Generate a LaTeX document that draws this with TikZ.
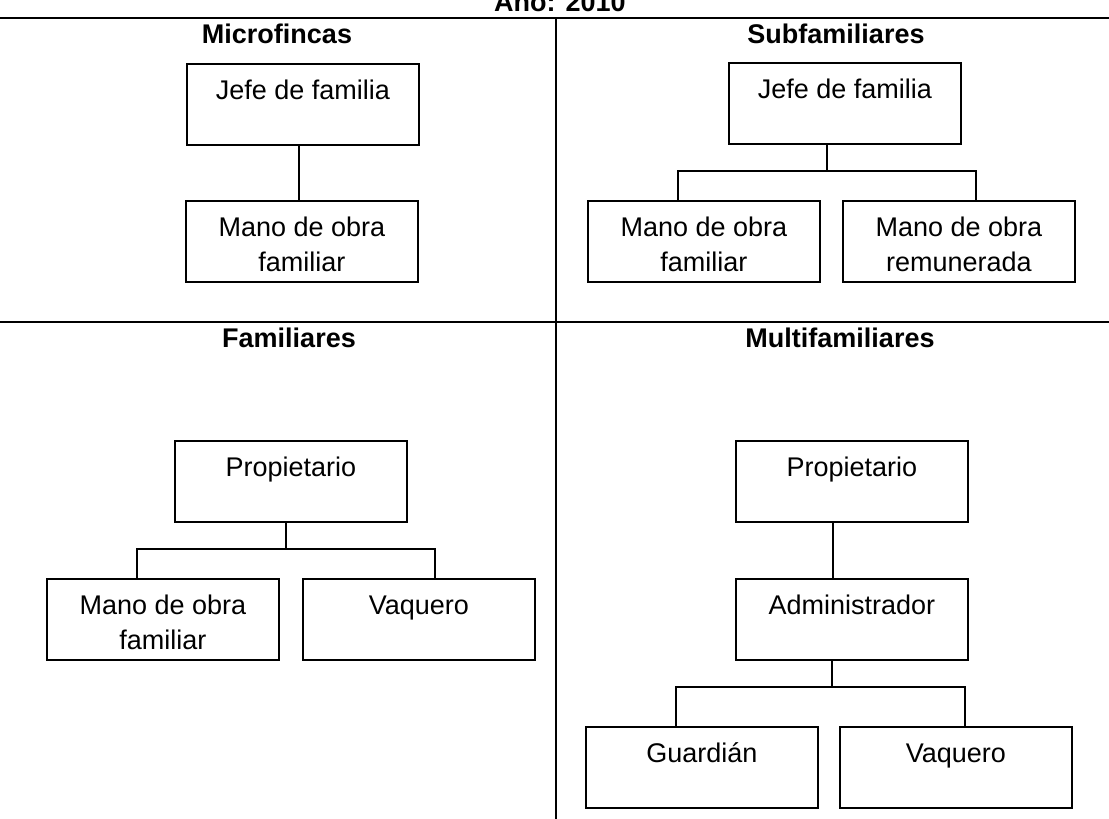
\documentclass[tikz,border=0pt]{standalone}
\usepackage{fontspec}
\setmainfont{Liberation Sans}
\newcommand{\bxt}[1]{\parbox[c][81pt][t]{232pt}{\centering\rule{0pt}{36pt}#1}}
\tikzset{
  orgbox/.style={draw, line width=1.9pt, inner sep=0pt, anchor=north west,
    font=\fontsize{27}{35}\selectfont},
  hdr/.style={anchor=base, inner sep=0pt, font=\fontsize{27}{32}\selectfont\bfseries},
  conn/.style={line width=1.9pt},
  divider/.style={line width=1.9pt}
}
\begin{document}
\begin{tikzpicture}[x=1pt,y=-1pt]
\useasboundingbox (0,0) rectangle (1109,819);
% title and dividers
\node[hdr] (title) at (560,11) {Año: 2010};
\coordinate (tl) at (0,18); \coordinate (tr) at (1109,18);
\coordinate (ml) at (0,322); \coordinate (mr) at (1109,322);
\coordinate (vt) at (556,18); \coordinate (vb) at (556,819);
\draw[divider] (tl) -- (tr);
\draw[divider] (ml) -- (mr);
\draw[divider] (vt) -- (vb);
% headers
\node[hdr] (h1) at (277,43) {Microfincas};
\node[hdr] (h2) at (836,43) {Subfamiliares};
\node[hdr] (h3) at (289,347) {Familiares};
\node[hdr] (h4) at (840,347) {Multifamiliares};
% Microfincas
\node[orgbox] (j1) at (186,63) {\bxt{Jefe de familia}};
\node[orgbox] (m1) at (185,200) {\bxt{Mano de obra\\familiar}};
\coordinate (c1) at (299,0);
\draw[conn] (j1.south -| c1) -- (m1.north -| c1);
% Subfamiliares
\node[orgbox] (j2) at (728,62) {\bxt{Jefe de familia}};
\node[orgbox] (m2a) at (587,200) {\bxt{Mano de obra\\familiar}};
\node[orgbox] (m2b) at (842,200) {\bxt{Mano de obra\\remunerada}};
\coordinate (s2) at (827,171);
\coordinate (b2l) at (678,171);
\coordinate (b2r) at (976,171);
\draw[conn] (j2.south -| s2) -- (s2);
\draw[conn] (m2a.north -| b2l) -- (b2l) -- (b2r) -- (m2b.north -| b2r);
% Familiares
\node[orgbox] (p3) at (174,440) {\bxt{Propietario}};
\node[orgbox] (m3a) at (46,578) {\bxt{Mano de obra\\familiar}};
\node[orgbox] (m3b) at (302,578) {\bxt{Vaquero}};
\coordinate (s3) at (286,549);
\coordinate (b3l) at (137,549);
\coordinate (b3r) at (435,549);
\draw[conn] (p3.south -| s3) -- (s3);
\draw[conn] (m3a.north -| b3l) -- (b3l) -- (b3r) -- (m3b.north -| b3r);
% Multifamiliares
\node[orgbox] (p4) at (735,440) {\bxt{Propietario}};
\node[orgbox] (a4) at (735,578) {\bxt{Administrador}};
\node[orgbox] (g4) at (585,726) {\bxt{Guardián}};
\node[orgbox] (v4) at (839,726) {\bxt{Vaquero}};
\coordinate (c4) at (833,0);
\draw[conn] (p4.south -| c4) -- (a4.north -| c4);
\coordinate (s4) at (832,687);
\coordinate (b4l) at (676,687);
\coordinate (b4r) at (965,687);
\draw[conn] (a4.south -| s4) -- (s4);
\draw[conn] (g4.north -| b4l) -- (b4l) -- (b4r) -- (v4.north -| b4r);
\end{tikzpicture}
\end{document}
